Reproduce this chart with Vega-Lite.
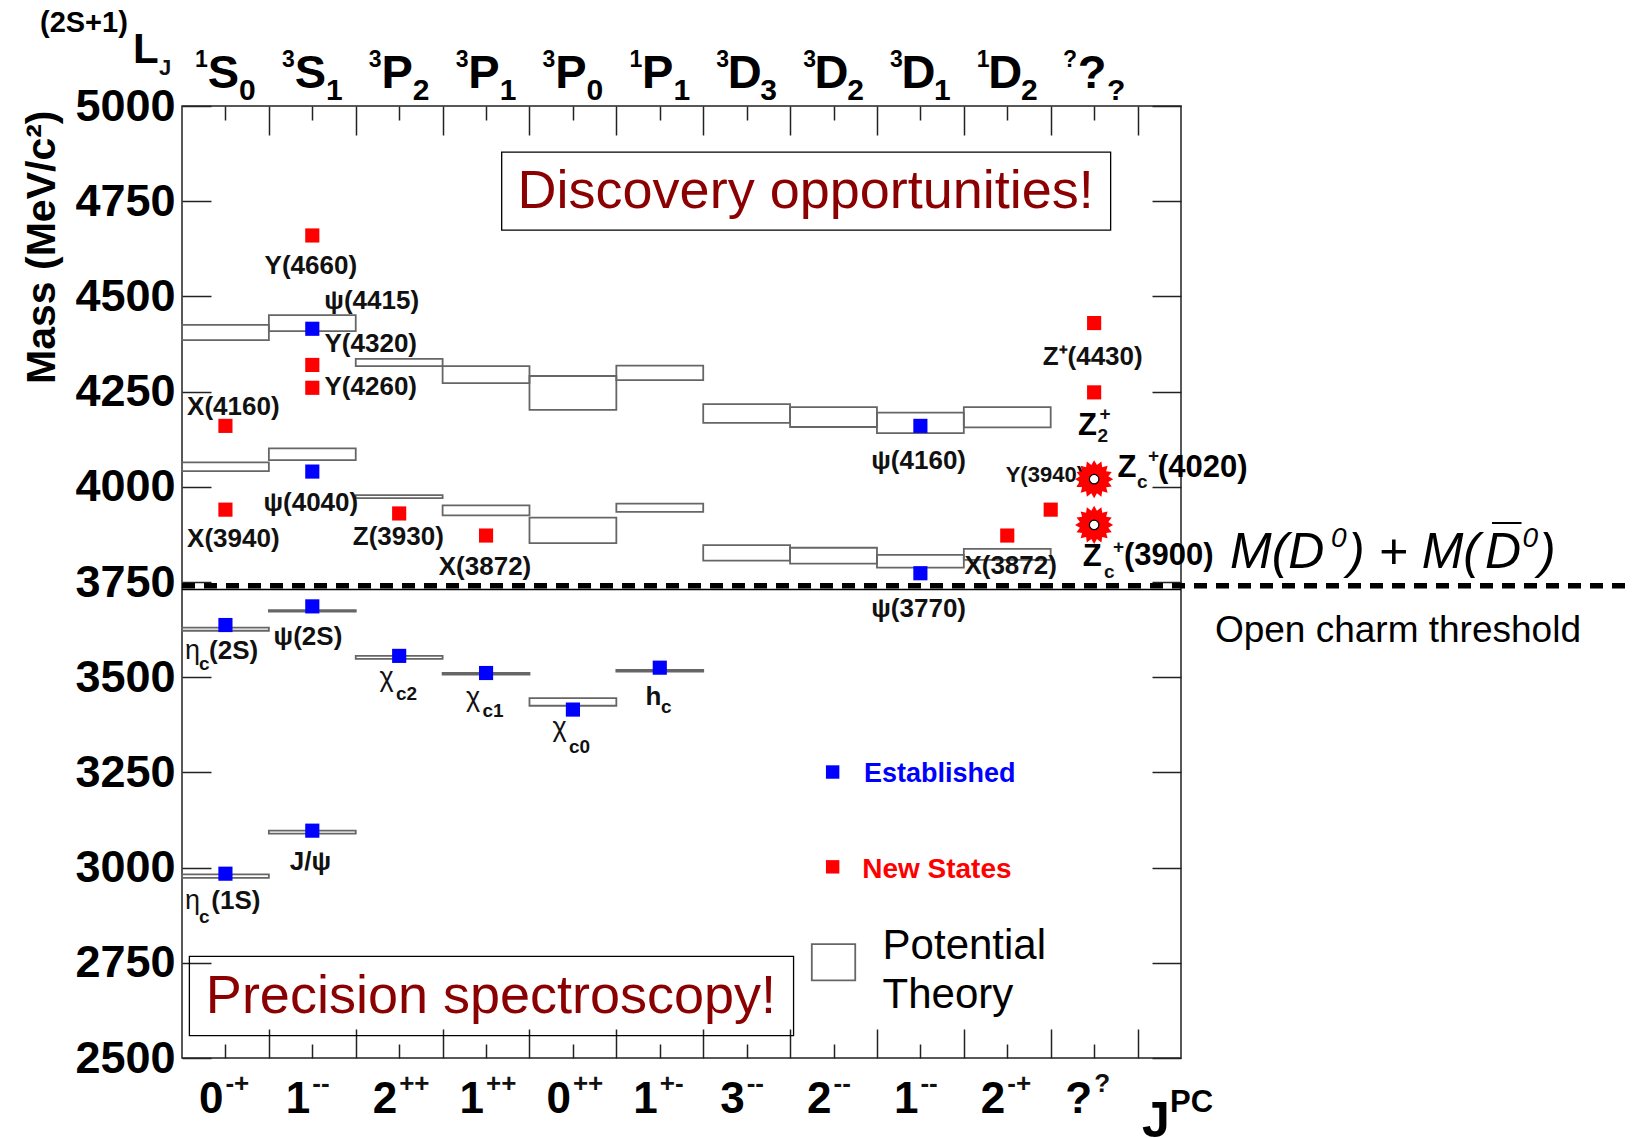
{
  "$schema": "https://vega.github.io/schema/vega-lite/v6.json",
  "width": 999,
  "height": 952,
  "autosize": {"type": "none"},
  "padding": {"left": 182, "top": 106, "right": 451, "bottom": 80},
  "background": "white",
  "config": {
    "view": {"stroke": "#222", "strokeWidth": 1.5},
    "font": "Liberation Sans",
    "axis": {"grid": false, "domain": false, "tickColor": "#222", "tickWidth": 1.5, "labelFont": "Liberation Sans", "titleFont": "Liberation Sans"}
  },
  "datasets": {
    "theory": [
      {"x0": 0, "x1": 1, "lo": 2973, "hi": 2982}, {"x0": 0, "x1": 1, "lo": 3622, "hi": 3630}, {"x0": 0, "x1": 1, "lo": 4041, "hi": 4064}, {"x0": 0, "x1": 1, "lo": 4385, "hi": 4425},
      {"x0": 1, "x1": 2, "lo": 3089, "hi": 3097}, {"x0": 1, "x1": 2, "lo": 3672, "hi": 3676}, {"x0": 1, "x1": 2, "lo": 4070, "hi": 4101}, {"x0": 1, "x1": 2, "lo": 4409, "hi": 4451},
      {"x0": 2, "x1": 3, "lo": 3548, "hi": 3556}, {"x0": 2, "x1": 3, "lo": 3970, "hi": 3978}, {"x0": 2, "x1": 3, "lo": 4317, "hi": 4336},
      {"x0": 3, "x1": 4, "lo": 3507, "hi": 3511}, {"x0": 3, "x1": 4, "lo": 3925, "hi": 3951}, {"x0": 3, "x1": 4, "lo": 4272, "hi": 4317},
      {"x0": 4, "x1": 5, "lo": 3425, "hi": 3445}, {"x0": 4, "x1": 5, "lo": 3852, "hi": 3919}, {"x0": 4, "x1": 5, "lo": 4202, "hi": 4291},
      {"x0": 5, "x1": 6, "lo": 3515, "hi": 3519}, {"x0": 5, "x1": 6, "lo": 3934, "hi": 3956}, {"x0": 5, "x1": 6, "lo": 4280, "hi": 4318},
      {"x0": 6, "x1": 7, "lo": 3806, "hi": 3847}, {"x0": 6, "x1": 7, "lo": 4168, "hi": 4217},
      {"x0": 7, "x1": 8, "lo": 3798, "hi": 3840}, {"x0": 7, "x1": 8, "lo": 4157, "hi": 4209},
      {"x0": 8, "x1": 9, "lo": 3788, "hi": 3821}, {"x0": 8, "x1": 9, "lo": 4141, "hi": 4195},
      {"x0": 9, "x1": 10, "lo": 3808, "hi": 3837}, {"x0": 9, "x1": 10, "lo": 4156, "hi": 4209}
    ],
    "states": [
      {"name": "ηc(1S)", "x": 0.5, "mass": 2984, "status": "Established"},
      {"name": "J/ψ", "x": 1.5, "mass": 3097, "status": "Established"},
      {"name": "ηc(2S)", "x": 0.5, "mass": 3637, "status": "Established"},
      {"name": "ψ(2S)", "x": 1.5, "mass": 3686, "status": "Established"},
      {"name": "χc2", "x": 2.5, "mass": 3556, "status": "Established"},
      {"name": "χc1", "x": 3.5, "mass": 3511, "status": "Established"},
      {"name": "χc0", "x": 4.5, "mass": 3415, "status": "Established"},
      {"name": "hc", "x": 5.5, "mass": 3525, "status": "Established"},
      {"name": "ψ(4040)", "x": 1.5, "mass": 4040, "status": "Established"},
      {"name": "ψ(4415)", "x": 1.5, "mass": 4415, "status": "Established"},
      {"name": "ψ(4160)", "x": 8.5, "mass": 4160, "status": "Established"},
      {"name": "ψ(3770)", "x": 8.5, "mass": 3773, "status": "Established"},
      {"name": "Y(4660)", "x": 1.5, "mass": 4660, "status": "New States"},
      {"name": "Y(4320)", "x": 1.5, "mass": 4320, "status": "New States"},
      {"name": "Y(4260)", "x": 1.5, "mass": 4260, "status": "New States"},
      {"name": "X(4160)", "x": 0.5, "mass": 4160, "status": "New States"},
      {"name": "X(3940)", "x": 0.5, "mass": 3940, "status": "New States"},
      {"name": "Z(3930)", "x": 2.5, "mass": 3930, "status": "New States"},
      {"name": "X(3872)", "x": 3.5, "mass": 3872, "status": "New States"},
      {"name": "X(3872)", "x": 9.5, "mass": 3872, "status": "New States"},
      {"name": "Y(3940)", "x": 10.0, "mass": 3940, "status": "New States"},
      {"name": "Z⁺(4430)", "x": 10.5, "mass": 4430, "status": "New States"},
      {"name": "Z₂⁺", "x": 10.5, "mass": 4248, "status": "New States"}
    ],
    "exotic": [
      {"name": "Zc⁺(4020)", "x": 10.5, "mass": 4020},
      {"name": "Zc⁺(3900)", "x": 10.5, "mass": 3900}
    ],
    "legendKeys": [
      {"status": "Established", "x": 7.49, "y": 3251},
      {"status": "New States", "x": 7.49, "y": 3002}
    ],
    "legendBox": [{"x0": 7.25, "x1": 7.75, "lo": 2704, "hi": 2799}],
    "frames": [
      {"x0": 3.68, "x1": 10.69, "lo": 4674, "hi": 4879},
      {"x0": 0.085, "x1": 7.04, "lo": 2559, "hi": 2767}
    ],
    "thresholdDashed": [{"x0": 0, "x1": 16.7, "mass": 3740}],
    "thresholdSolid": [{"x0": 0, "x1": 11.5, "mass": 3730}],
    "antiBar": [{"x0": 15.08, "x1": 15.42, "y": 3905}],
    "labels": [
      {"part": "name", "x": 1.483, "y": 4581, "text": "Y(4660)"},
      {"part": "name", "x": 2.184, "y": 4489, "text": "ψ(4415)"},
      {"part": "name", "x": 2.173, "y": 4375, "text": "Y(4320)"},
      {"part": "name", "x": 2.173, "y": 4261, "text": "Y(4260)"},
      {"part": "name", "x": 0.591, "y": 4210, "text": "X(4160)"},
      {"part": "name", "x": 1.483, "y": 3958, "text": "ψ(4040)"},
      {"part": "name", "x": 0.591, "y": 3862, "text": "X(3940)"},
      {"part": "name", "x": 2.49, "y": 3869, "text": "Z(3930)"},
      {"part": "name", "x": 3.488, "y": 3790, "text": "X(3872)"},
      {"part": "name", "x": 8.48, "y": 4068, "text": "ψ(4160)"},
      {"part": "name", "x": 8.48, "y": 3679, "text": "ψ(3770)"},
      {"part": "name", "x": 9.539, "y": 3793, "text": "X(3872)"},
      {"part": "name", "x": 10.483, "y": 4342, "text": "Z⁺(4430)"},
      {"part": "name", "x": 1.45, "y": 3606, "text": "ψ(2S)"},
      {"part": "name", "x": 1.478, "y": 3015, "text": "J/ψ"},
      {"part": "small", "x": 9.482, "y": 4013, "text": "Y(3940)"},
      {"part": "small", "x": -0.265, "y": 5081, "text": "J"},
      {"part": "greek", "x": 0.035, "y": 3548, "text": "η"},
      {"part": "greek", "x": 0.035, "y": 2891, "text": "η"},
      {"part": "greek", "x": 2.273, "y": 3477, "text": "χ"},
      {"part": "greek", "x": 3.269, "y": 3424, "text": "χ"},
      {"part": "greek", "x": 4.266, "y": 3346, "text": "χ"},
      {"part": "piece", "x": 0.311, "y": 3548, "text": "(2S)"},
      {"part": "piece", "x": 0.338, "y": 2891, "text": "(1S)"},
      {"part": "piece", "x": 5.337, "y": 3427, "text": "h"},
      {"part": "cornerSup", "x": -1.635, "y": 5195, "text": "(2S+1)"},
      {"part": "sub", "x": 0.196, "y": 3519, "text": "c"},
      {"part": "sub", "x": 0.196, "y": 2855, "text": "c"},
      {"part": "sub", "x": 2.463, "y": 3440, "text": "c2"},
      {"part": "sub", "x": 3.459, "y": 3396, "text": "c1"},
      {"part": "sub", "x": 4.455, "y": 3301, "text": "c0"},
      {"part": "sub", "x": 5.514, "y": 3406, "text": "c"},
      {"part": "sub", "x": 10.994, "y": 3997, "text": "c"},
      {"part": "sub", "x": 11.12, "y": 4066, "text": "+"},
      {"part": "sub", "x": 10.614, "y": 3761, "text": "c"},
      {"part": "sub", "x": 10.717, "y": 3827, "text": "+"},
      {"part": "sub", "x": 10.539, "y": 4118, "text": "2"},
      {"part": "sub", "x": 10.561, "y": 4175, "text": "+"},
      {"part": "zmain", "x": 10.769, "y": 4026, "text": "Z"},
      {"part": "zmain", "x": 11.235, "y": 4026, "text": "(4020)"},
      {"part": "zmain", "x": 10.368, "y": 3792, "text": "Z"},
      {"part": "zmain", "x": 10.844, "y": 3795, "text": "(3900)"},
      {"part": "zmain", "x": 10.314, "y": 4136, "text": "Z"},
      {"part": "zmain", "x": 11.373, "y": 2358, "text": "PC"},
      {"part": "corner", "x": -0.564, "y": 5113, "text": "L"},
      {"part": "cornerJ", "x": 11.05, "y": 2293, "text": "J"},
      {"part": "topMain", "x": 0.5, "y": 5047, "text": "S"}, {"part": "topSup", "x": 0.5, "y": 5102, "text": "1"}, {"part": "topSub", "x": 0.5, "y": 5016, "text": "0"},
      {"part": "topMain", "x": 1.5, "y": 5047, "text": "S"}, {"part": "topSup", "x": 1.5, "y": 5102, "text": "3"}, {"part": "topSub", "x": 1.5, "y": 5016, "text": "1"},
      {"part": "topMain", "x": 2.5, "y": 5047, "text": "P"}, {"part": "topSup", "x": 2.5, "y": 5102, "text": "3"}, {"part": "topSub", "x": 2.5, "y": 5016, "text": "2"},
      {"part": "topMain", "x": 3.5, "y": 5047, "text": "P"}, {"part": "topSup", "x": 3.5, "y": 5102, "text": "3"}, {"part": "topSub", "x": 3.5, "y": 5016, "text": "1"},
      {"part": "topMain", "x": 4.5, "y": 5047, "text": "P"}, {"part": "topSup", "x": 4.5, "y": 5102, "text": "3"}, {"part": "topSub", "x": 4.5, "y": 5016, "text": "0"},
      {"part": "topMain", "x": 5.5, "y": 5047, "text": "P"}, {"part": "topSup", "x": 5.5, "y": 5102, "text": "1"}, {"part": "topSub", "x": 5.5, "y": 5016, "text": "1"},
      {"part": "topMain", "x": 6.5, "y": 5047, "text": "D"}, {"part": "topSup", "x": 6.5, "y": 5102, "text": "3"}, {"part": "topSub", "x": 6.5, "y": 5016, "text": "3"},
      {"part": "topMain", "x": 7.5, "y": 5047, "text": "D"}, {"part": "topSup", "x": 7.5, "y": 5102, "text": "3"}, {"part": "topSub", "x": 7.5, "y": 5016, "text": "2"},
      {"part": "topMain", "x": 8.5, "y": 5047, "text": "D"}, {"part": "topSup", "x": 8.5, "y": 5102, "text": "3"}, {"part": "topSub", "x": 8.5, "y": 5016, "text": "1"},
      {"part": "topMain", "x": 9.5, "y": 5047, "text": "D"}, {"part": "topSup", "x": 9.5, "y": 5102, "text": "1"}, {"part": "topSub", "x": 9.5, "y": 5016, "text": "2"},
      {"part": "topMain", "x": 10.5, "y": 5047, "text": "?"}, {"part": "topSup", "x": 10.5, "y": 5102, "text": "?"}, {"part": "topSub", "x": 10.5, "y": 5016, "text": "?"},
      {"part": "botMain", "x": 0.5, "y": 2356, "text": "0"}, {"part": "piece", "x": 0.5, "y": 2411, "text": "-+"},
      {"part": "botMain", "x": 1.5, "y": 2356, "text": "1"}, {"part": "piece", "x": 1.5, "y": 2411, "text": "--"},
      {"part": "botMain", "x": 2.5, "y": 2356, "text": "2"}, {"part": "piece", "x": 2.5, "y": 2411, "text": "++"},
      {"part": "botMain", "x": 3.5, "y": 2356, "text": "1"}, {"part": "piece", "x": 3.5, "y": 2411, "text": "++"},
      {"part": "botMain", "x": 4.5, "y": 2356, "text": "0"}, {"part": "piece", "x": 4.5, "y": 2411, "text": "++"},
      {"part": "botMain", "x": 5.5, "y": 2356, "text": "1"}, {"part": "piece", "x": 5.5, "y": 2411, "text": "+-"},
      {"part": "botMain", "x": 6.5, "y": 2356, "text": "3"}, {"part": "piece", "x": 6.5, "y": 2411, "text": "--"},
      {"part": "botMain", "x": 7.5, "y": 2356, "text": "2"}, {"part": "piece", "x": 7.5, "y": 2411, "text": "--"},
      {"part": "botMain", "x": 8.5, "y": 2356, "text": "1"}, {"part": "piece", "x": 8.5, "y": 2411, "text": "--"},
      {"part": "botMain", "x": 9.5, "y": 2356, "text": "2"}, {"part": "piece", "x": 9.5, "y": 2411, "text": "-+"},
      {"part": "botMain", "x": 10.5, "y": 2356, "text": "?"}, {"part": "piece", "x": 10.5, "y": 2411, "text": "?"},
      {"part": "banner", "x": 7.18, "y": 4775, "text": "Discovery opportunities!"},
      {"part": "banner", "x": 3.557, "y": 2660, "text": "Precision spectroscopy!"},
      {"part": "keyBlue", "x": 7.85, "y": 3245, "text": "Established"},
      {"part": "keyRed", "x": 7.83, "y": 2994, "text": "New States"},
      {"part": "keyBlack", "x": 8.065, "y": 2794, "text": "Potential"},
      {"part": "keyBlack", "x": 8.065, "y": 2665, "text": "Theory"},
      {"part": "formula", "x": 12.064, "y": 3787, "text": "M(D"},
      {"part": "formulaSup", "x": 13.227, "y": 3843, "text": "0"},
      {"part": "formula", "x": 13.423, "y": 3787, "text": ") + M("},
      {"part": "formula", "x": 15.0, "y": 3787, "text": "D"},
      {"part": "formulaSup", "x": 15.43, "y": 3843, "text": "0"},
      {"part": "formula", "x": 15.62, "y": 3787, "text": ")"},
      {"part": "note", "x": 11.89, "y": 3593, "text": "Open charm threshold"}
    ]
  },
  "layer": [
    {
      "data": {"name": "theory"},
      "mark": {"type": "rect", "fill": null, "fillOpacity": 0, "stroke": "#666", "strokeWidth": 1.8},
      "encoding": {
        "x": {"field": "x0", "type": "quantitative", "scale": {"domain": [0, 11.5], "nice": false, "zero": false},
              "axis": {"orient": "bottom", "values": [1, 2, 3, 4, 5, 6, 7, 8, 9, 10, 11], "tickSize": -29, "labels": false, "title": null}},
        "x2": {"field": "x1"},
        "y": {"field": "lo", "type": "quantitative", "scale": {"domain": [2500, 5000], "nice": false, "zero": false},
              "axis": {"orient": "left", "values": [2500, 2750, 3000, 3250, 3500, 3750, 4000, 4250, 4500, 4750, 5000], "format": "d", "tickSize": -29, "labelPadding": 36,
                       "labelFontSize": 45, "labelFontWeight": "bold", "labelColor": "black", "labelBaseline": "middle",
                       "title": "Mass (MeV/c²)", "titleFontSize": 41, "titleFontWeight": "bold", "titleColor": "black",
                       "titleAngle": -90, "titleAlign": "right", "titleBaseline": "middle", "titleX": -140, "titleY": 4}},
        "y2": {"field": "hi"}
      }
    },
    {
      "data": {"name": "thresholdSolid"},
      "mark": {"type": "rule", "stroke": "black", "strokeWidth": 1.5},
      "encoding": {
        "x": {"field": "x0", "type": "quantitative", "axis": {"orient": "top", "values": [1, 2, 3, 4, 5, 6, 7, 8, 9, 10, 11], "tickSize": -29, "labels": false, "title": null}},
        "x2": {"field": "x1"},
        "y": {"field": "mass", "type": "quantitative", "axis": {"orient": "right", "values": [2500, 2750, 3000, 3250, 3500, 3750, 4000, 4250, 4500, 4750, 5000], "tickSize": -29, "labels": false, "title": null}}
      }
    },
    {
      "data": {"name": "thresholdDashed"},
      "mark": {"type": "rule", "stroke": "black", "strokeWidth": 5.5, "strokeDash": [13, 9]},
      "encoding": {
        "x": {"field": "x0", "type": "quantitative", "axis": {"orient": "bottom", "values": [0.5, 1.5, 2.5, 3.5, 4.5, 5.5, 6.5, 7.5, 8.5, 9.5, 10.5], "tickSize": -14, "labels": false, "title": null}},
        "x2": {"field": "x1"},
        "y": {"field": "mass", "type": "quantitative", "axis": null}
      }
    },
    {
      "data": {"name": "frames"},
      "mark": {"type": "rect", "fill": null, "fillOpacity": 0, "stroke": "black", "strokeWidth": 1.3},
      "encoding": {
        "x": {"field": "x0", "type": "quantitative", "axis": {"orient": "top", "values": [0.5, 1.5, 2.5, 3.5, 4.5, 5.5, 6.5, 7.5, 8.5, 9.5, 10.5], "tickSize": -14, "labels": false, "title": null}},
        "x2": {"field": "x1"},
        "y": {"field": "lo", "type": "quantitative", "axis": null},
        "y2": {"field": "hi"}
      }
    },
    {
      "data": {"name": "legendBox"},
      "mark": {"type": "rect", "fill": null, "fillOpacity": 0, "stroke": "#666", "strokeWidth": 1.8},
      "encoding": {
        "x": {"field": "x0", "type": "quantitative", "axis": null},
        "x2": {"field": "x1"},
        "y": {"field": "lo", "type": "quantitative", "axis": null},
        "y2": {"field": "hi"}
      }
    },
    {
      "data": {"name": "antiBar"},
      "mark": {"type": "rule", "stroke": "black", "strokeWidth": 2},
      "encoding": {
        "x": {"field": "x0", "type": "quantitative", "axis": null},
        "x2": {"field": "x1"},
        "y": {"field": "y", "type": "quantitative", "axis": null}
      }
    },
    {
      "data": {"name": "states"},
      "mark": {"type": "point", "shape": "square", "filled": true, "size": 200, "opacity": 1},
      "encoding": {
        "x": {"field": "x", "type": "quantitative", "axis": null},
        "y": {"field": "mass", "type": "quantitative", "axis": null},
        "color": {"field": "status", "type": "nominal", "scale": {"domain": ["Established", "New States"], "range": ["#0000ff", "#ff0000"]}, "legend": null}
      }
    },
    {
      "data": {"name": "legendKeys"},
      "mark": {"type": "point", "shape": "square", "filled": true, "size": 180, "opacity": 1},
      "encoding": {
        "x": {"field": "x", "type": "quantitative", "axis": null},
        "y": {"field": "y", "type": "quantitative", "axis": null},
        "color": {"field": "status", "type": "nominal", "legend": null}
      }
    },
    {
      "data": {"name": "labels"},
      "transform": [{"filter": "datum.part === 'name'"}],
      "mark": {"type": "text", "fontSize": 26, "fontWeight": "bold", "align": "center", "baseline": "middle", "color": "#111"},
      "encoding": {"x": {"field": "x", "type": "quantitative", "axis": null}, "y": {"field": "y", "type": "quantitative", "axis": null}, "text": {"field": "text"}}
    },
    {
      "data": {"name": "labels"},
      "transform": [{"filter": "datum.part === 'small'"}],
      "mark": {"type": "text", "fontSize": 22, "fontWeight": "bold", "align": "left", "baseline": "alphabetic", "color": "#111"},
      "encoding": {"x": {"field": "x", "type": "quantitative", "axis": null}, "y": {"field": "y", "type": "quantitative", "axis": null}, "text": {"field": "text"}}
    },
    {
      "data": {"name": "exotic"},
      "mark": {"type": "point", "filled": true, "size": 1450, "opacity": 1, "color": "#ff0000",
               "shape": "M1,0L0.745,0.148L0.924,0.383L0.632,0.422L0.707,0.707L0.422,0.632L0.383,0.924L0.148,0.745L0,1L-0.148,0.745L-0.383,0.924L-0.422,0.632L-0.707,0.707L-0.632,0.422L-0.924,0.383L-0.745,0.148L-1,0L-0.745,-0.148L-0.924,-0.383L-0.632,-0.422L-0.707,-0.707L-0.422,-0.632L-0.383,-0.924L-0.148,-0.745L0,-1L0.148,-0.745L0.383,-0.924L0.422,-0.632L0.707,-0.707L0.632,-0.422L0.924,-0.383L0.745,-0.148Z"},
      "encoding": {"x": {"field": "x", "type": "quantitative", "axis": null}, "y": {"field": "mass", "type": "quantitative", "axis": null}}
    },
    {
      "data": {"name": "exotic"},
      "mark": {"type": "point", "shape": "circle", "filled": true, "size": 90, "opacity": 1, "fill": "white", "stroke": "black", "strokeWidth": 1.2},
      "encoding": {"x": {"field": "x", "type": "quantitative", "axis": null}, "y": {"field": "mass", "type": "quantitative", "axis": null}}
    },
    {
      "data": {"name": "labels"},
      "transform": [{"filter": "datum.part === 'greek'"}],
      "mark": {"type": "text", "fontSize": 27, "fontWeight": "normal", "align": "left", "baseline": "alphabetic", "color": "#111"},
      "encoding": {"x": {"field": "x", "type": "quantitative", "axis": null}, "y": {"field": "y", "type": "quantitative", "axis": null}, "text": {"field": "text"}}
    },
    {
      "data": {"name": "labels"},
      "transform": [{"filter": "datum.part === 'piece'"}],
      "mark": {"type": "text", "fontSize": 26, "fontWeight": "bold", "align": "left", "baseline": "alphabetic", "color": "#111"},
      "encoding": {"x": {"field": "x", "type": "quantitative", "axis": null}, "y": {"field": "y", "type": "quantitative", "axis": null}, "text": {"field": "text"}}
    },
    {
      "data": {"name": "labels"},
      "transform": [{"filter": "datum.part === 'cornerSup'"}],
      "mark": {"type": "text", "fontSize": 29, "fontWeight": "bold", "align": "left", "baseline": "alphabetic", "color": "black"},
      "encoding": {"x": {"field": "x", "type": "quantitative", "axis": null}, "y": {"field": "y", "type": "quantitative", "axis": null}, "text": {"field": "text"}}
    },
    {
      "data": {"name": "labels"},
      "transform": [{"filter": "datum.part === 'sub'"}],
      "mark": {"type": "text", "fontSize": 19, "fontWeight": "bold", "align": "left", "baseline": "alphabetic", "color": "#111"},
      "encoding": {"x": {"field": "x", "type": "quantitative", "axis": null}, "y": {"field": "y", "type": "quantitative", "axis": null}, "text": {"field": "text"}}
    },
    {
      "data": {"name": "labels"},
      "transform": [{"filter": "datum.part === 'zmain'"}],
      "mark": {"type": "text", "fontSize": 31, "fontWeight": "bold", "align": "left", "baseline": "alphabetic", "color": "black"},
      "encoding": {"x": {"field": "x", "type": "quantitative", "axis": null}, "y": {"field": "y", "type": "quantitative", "axis": null}, "text": {"field": "text"}}
    },
    {
      "data": {"name": "labels"},
      "transform": [{"filter": "datum.part === 'corner'"}],
      "mark": {"type": "text", "fontSize": 42, "fontWeight": "bold", "align": "left", "baseline": "alphabetic", "color": "black"},
      "encoding": {"x": {"field": "x", "type": "quantitative", "axis": null}, "y": {"field": "y", "type": "quantitative", "axis": null}, "text": {"field": "text"}}
    },
    {
      "data": {"name": "labels"},
      "transform": [{"filter": "datum.part === 'cornerJ'"}],
      "mark": {"type": "text", "fontSize": 50, "fontWeight": "bold", "align": "left", "baseline": "alphabetic", "color": "black"},
      "encoding": {"x": {"field": "x", "type": "quantitative", "axis": null}, "y": {"field": "y", "type": "quantitative", "axis": null}, "text": {"field": "text"}}
    },
    {
      "data": {"name": "labels"},
      "transform": [{"filter": "datum.part === 'topMain'"}],
      "mark": {"type": "text", "fontSize": 47, "fontWeight": "bold", "align": "center", "baseline": "alphabetic", "dx": -2, "color": "black"},
      "encoding": {"x": {"field": "x", "type": "quantitative", "axis": null}, "y": {"field": "y", "type": "quantitative", "axis": null}, "text": {"field": "text"}}
    },
    {
      "data": {"name": "labels"},
      "transform": [{"filter": "datum.part === 'topSup'"}],
      "mark": {"type": "text", "fontSize": 23, "fontWeight": "bold", "align": "center", "baseline": "alphabetic", "dx": -24, "color": "black"},
      "encoding": {"x": {"field": "x", "type": "quantitative", "axis": null}, "y": {"field": "y", "type": "quantitative", "axis": null}, "text": {"field": "text"}}
    },
    {
      "data": {"name": "labels"},
      "transform": [{"filter": "datum.part === 'topSub'"}],
      "mark": {"type": "text", "fontSize": 30, "fontWeight": "bold", "align": "center", "baseline": "alphabetic", "dx": 22, "color": "black"},
      "encoding": {"x": {"field": "x", "type": "quantitative", "axis": null}, "y": {"field": "y", "type": "quantitative", "axis": null}, "text": {"field": "text"}}
    },
    {
      "data": {"name": "labels"},
      "transform": [{"filter": "datum.part === 'botMain'"}],
      "mark": {"type": "text", "fontSize": 44, "fontWeight": "bold", "align": "right", "baseline": "alphabetic", "dx": -2, "color": "black"},
      "encoding": {"x": {"field": "x", "type": "quantitative", "axis": null}, "y": {"field": "y", "type": "quantitative", "axis": null}, "text": {"field": "text"}}
    },
    {
      "data": {"name": "labels"},
      "transform": [{"filter": "datum.part === 'banner'"}],
      "mark": {"type": "text", "fontSize": 54, "fontWeight": "normal", "align": "center", "baseline": "middle", "color": "#8b0000"},
      "encoding": {"x": {"field": "x", "type": "quantitative", "axis": null}, "y": {"field": "y", "type": "quantitative", "axis": null}, "text": {"field": "text"}}
    },
    {
      "data": {"name": "labels"},
      "transform": [{"filter": "datum.part === 'keyBlue'"}],
      "mark": {"type": "text", "fontSize": 27, "fontWeight": "bold", "align": "left", "baseline": "middle", "color": "#0000ff"},
      "encoding": {"x": {"field": "x", "type": "quantitative", "axis": null}, "y": {"field": "y", "type": "quantitative", "axis": null}, "text": {"field": "text"}}
    },
    {
      "data": {"name": "labels"},
      "transform": [{"filter": "datum.part === 'keyRed'"}],
      "mark": {"type": "text", "fontSize": 28, "fontWeight": "bold", "align": "left", "baseline": "middle", "color": "#ff0000"},
      "encoding": {"x": {"field": "x", "type": "quantitative", "axis": null}, "y": {"field": "y", "type": "quantitative", "axis": null}, "text": {"field": "text"}}
    },
    {
      "data": {"name": "labels"},
      "transform": [{"filter": "datum.part === 'keyBlack'"}],
      "mark": {"type": "text", "fontSize": 42, "fontWeight": "normal", "align": "left", "baseline": "middle", "color": "black"},
      "encoding": {"x": {"field": "x", "type": "quantitative", "axis": null}, "y": {"field": "y", "type": "quantitative", "axis": null}, "text": {"field": "text"}}
    },
    {
      "data": {"name": "labels"},
      "transform": [{"filter": "datum.part === 'formula'"}],
      "mark": {"type": "text", "fontSize": 50, "fontStyle": "italic", "fontWeight": "normal", "align": "left", "baseline": "alphabetic", "color": "black"},
      "encoding": {"x": {"field": "x", "type": "quantitative", "axis": null}, "y": {"field": "y", "type": "quantitative", "axis": null}, "text": {"field": "text"}}
    },
    {
      "data": {"name": "labels"},
      "transform": [{"filter": "datum.part === 'formulaSup'"}],
      "mark": {"type": "text", "fontSize": 28, "fontStyle": "italic", "fontWeight": "normal", "align": "left", "baseline": "alphabetic", "color": "black"},
      "encoding": {"x": {"field": "x", "type": "quantitative", "axis": null}, "y": {"field": "y", "type": "quantitative", "axis": null}, "text": {"field": "text"}}
    },
    {
      "data": {"name": "labels"},
      "transform": [{"filter": "datum.part === 'note'"}],
      "mark": {"type": "text", "fontSize": 37, "fontWeight": "normal", "align": "left", "baseline": "alphabetic", "color": "black"},
      "encoding": {"x": {"field": "x", "type": "quantitative", "axis": null}, "y": {"field": "y", "type": "quantitative", "axis": null}, "text": {"field": "text"}}
    }
  ],
  "resolve": {"axis": {"x": "independent", "y": "independent"}}
}
